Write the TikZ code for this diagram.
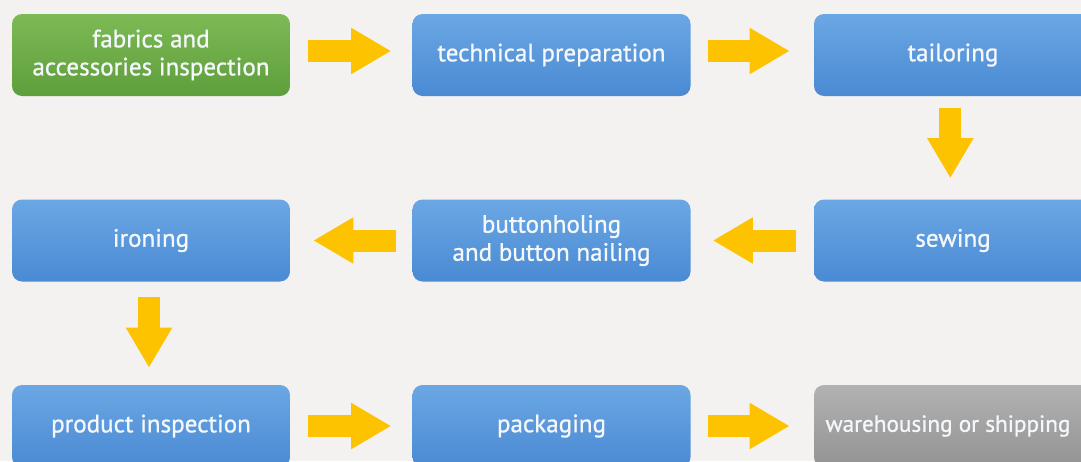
\documentclass[tikz,border=0pt]{standalone}
\usepackage{fontspec}
\setmainfont{PT Sans}
\newfontfamily\boxfont{PT Sans}[FakeBold=0.9]
\usetikzlibrary{arrows.meta}
\definecolor{bg}{HTML}{F3F2F0}
\definecolor{blueT}{HTML}{6BA7E4}
\definecolor{blueB}{HTML}{4A8AD3}
\definecolor{greenT}{HTML}{7DBA56}
\definecolor{greenB}{HTML}{5E9E3B}
\definecolor{grayT}{HTML}{B2B2B2}
\definecolor{grayB}{HTML}{939393}
\definecolor{arrowY}{HTML}{FDC300}
\definecolor{txt}{HTML}{F5F8FB}
\begin{document}
\begin{tikzpicture}[x=0.75pt,y=-0.75pt,
  box/.style={rounded corners=7.5pt, minimum width=208.5pt, minimum height=61.5pt,
    text=txt, font=\boxfont\fontsize{18.8}{21}\selectfont, align=center, inner sep=0pt,
    top color=blueT, bottom color=blueB, draw=none},
  greenbox/.style={box, top color=greenT, bottom color=greenB},
  graybox/.style={box, top color=grayT, bottom color=grayB},
  bigarrow/.style={draw=arrowY, line width=16.5pt, -{Triangle[length=30pt,width=32.5pt]}}]
\useasboundingbox (0,0) rectangle (1081,461);
\fill[bg] (0,0) rectangle (1081,461);
\clip (0,0) rectangle (1081,461);

\node[greenbox] (fab) at (151,55) {fabrics and\\accessories inspection};
\node[box] (tech) at (551.5,55) {technical preparation};
\node[box] (tail) at (953,55) {tailoring};
\node[box] (iron) at (151,240.5) {ironing};
\node[box] (butt) at (551.5,240.5) {buttonholing\\and button nailing};
\node[box] (sew) at (953,240.5) {sewing};
\node[box] (prod) at (151,426) {product inspection};
\node[box] (pack) at (551.5,426) {packaging};
\node[graybox] (ware) at (953,426) {};
\node[text=txt, font=\boxfont\fontsize{17.4}{21}\selectfont, inner sep=0pt] (waretext) at (948,426) {warehousing or shipping};

\draw[bigarrow] ([xshift=13.5pt,yshift=3pt]fab.east) -- ([xshift=-15.75pt,yshift=3pt]tech.west);
\draw[bigarrow] ([xshift=12.75pt,yshift=3pt]tech.east) -- ([xshift=-18pt,yshift=3pt]tail.west);
\draw[bigarrow] ([yshift=-9pt,xshift=-2pt]tail.south) -- ([yshift=15.75pt,xshift=-2pt]sew.north);
\draw[bigarrow] ([xshift=-13.5pt]sew.west) -- ([xshift=16.5pt]butt.east);
\draw[bigarrow] ([xshift=-12pt]butt.west) -- ([xshift=17.25pt]iron.east);
\draw[bigarrow] ([yshift=-11.25pt,xshift=-1.5pt]iron.south) -- ([yshift=12.75pt,xshift=-1.5pt]prod.north);
\draw[bigarrow] ([xshift=13.5pt]prod.east) -- ([xshift=-15.75pt]pack.west);
\draw[bigarrow] ([xshift=12.75pt]pack.east) -- ([xshift=-18pt]ware.west);
\end{tikzpicture}
\end{document}
